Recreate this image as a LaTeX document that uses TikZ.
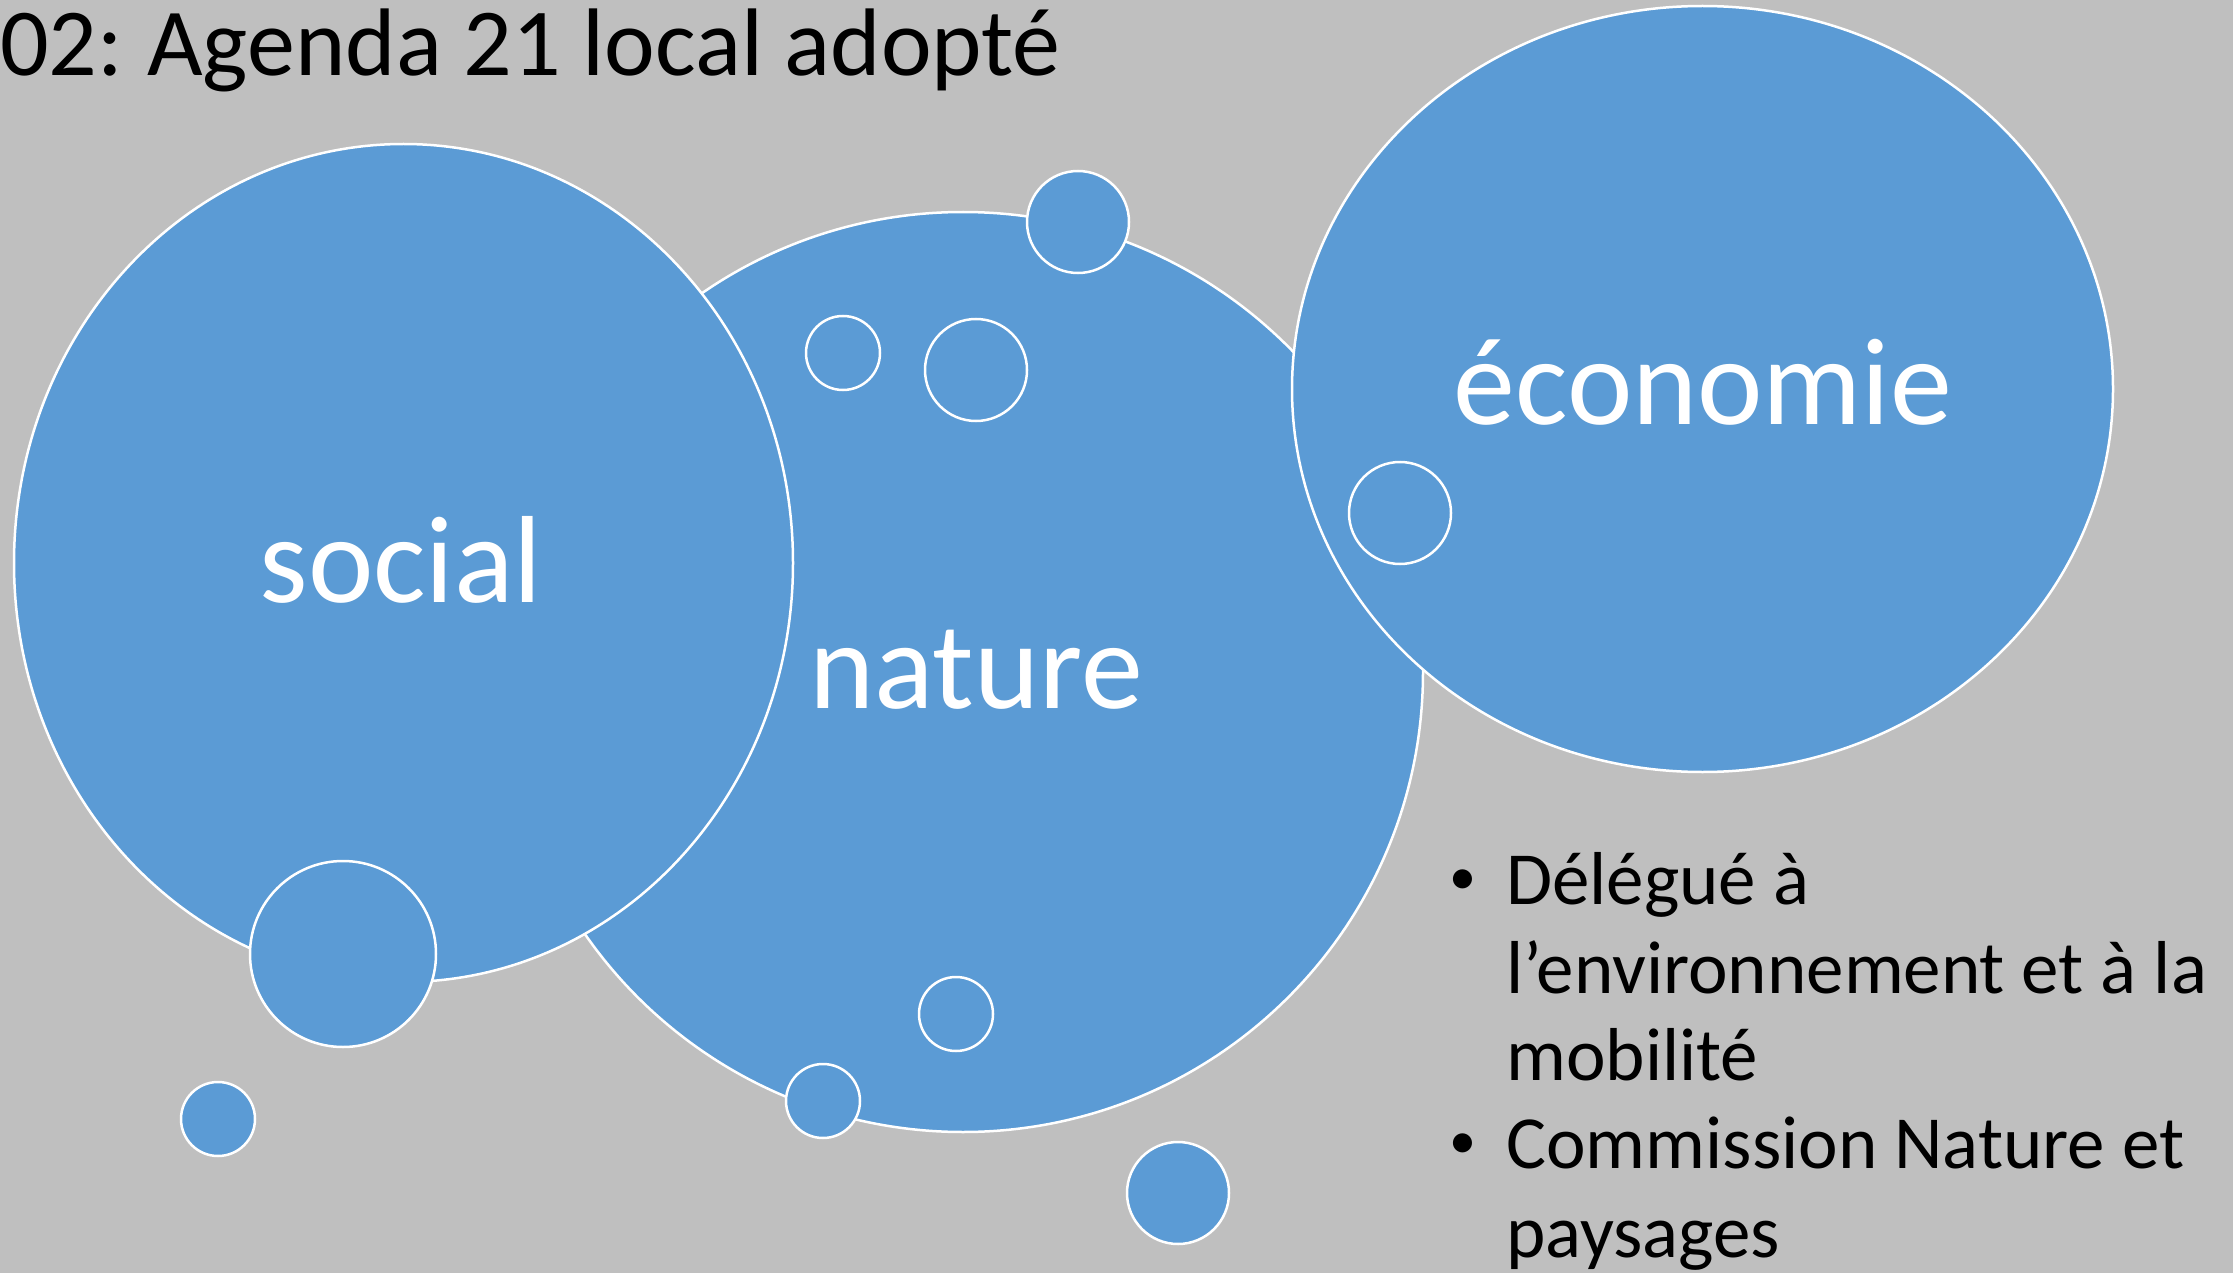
\documentclass[tikz,border=0pt]{standalone}
\usepackage{fontspec}
\setmainfont{Carlito}
\definecolor{bgc}{HTML}{BFBFBF}
\definecolor{blob}{HTML}{5B9BD5}
\begin{document}
\begin{tikzpicture}[x=1pt,y=-1pt,
  bubble/.style={fill=blob,draw=white,line width=2.5pt},
  bigtxt/.style={text=white,inner sep=0pt,anchor=base,font=\fontsize{124}{148}\selectfont},
  bultxt/.style={text=black,inner sep=0pt,anchor=base west,font=\fontsize{75}{88}\selectfont},
  buldot/.style={text=black,inner sep=0pt,anchor=base,font=\fontsize{54}{60}\selectfont}]
\fill[bgc] (0,0) rectangle (2233,1273);
\useasboundingbox (0,0) rectangle (2233,1273);
% big bubbles
\draw[bubble] (963,672) circle [radius=460pt];
\draw[bubble] (403.5,563) ellipse [x radius=389.5pt, y radius=419pt];
\draw[bubble] (1702.5,389) ellipse [x radius=410.5pt, y radius=383pt];
% small bubbles
\draw[bubble] (1078,222) circle [radius=51pt];
\draw[bubble] (843,353) circle [radius=37pt];
\draw[bubble] (976,370) circle [radius=51pt];
\draw[bubble] (1400,513) circle [radius=51pt];
\draw[bubble] (343,954) circle [radius=93pt];
\draw[bubble] (218,1119) circle [radius=37pt];
\draw[bubble] (956,1014) circle [radius=37pt];
\draw[bubble] (823,1101) circle [radius=37pt];
\draw[bubble] (1178,1193) circle [radius=51pt];
% labels
\node[text=black,inner sep=0pt,anchor=base west,font=\fontsize{96}{115}\selectfont] (title) at (0,76) {02:\hspace{-0.05em} Agenda 21 local adopté};
\node[bigtxt] (social) at (401,602) {social};
\node[bigtxt] (nature) at (976,708) {nature};
\node[bigtxt] (economie) at (1703,424) {économie};
% bullet list
\node[buldot] (b1) at (1463,894) {•};
\node[bultxt] (l1) at (1506,904) {Délégué à};
\node[bultxt] (l2) at (1506,993) {l’environnement et à la};
\node[bultxt] (l3) at (1506,1080) {mobilité};
\node[buldot] (b2) at (1463,1158) {•};
\node[bultxt] (l4) at (1506,1168) {Commission Nature et};
\node[bultxt] (l5) at (1506,1257) {paysages};
\end{tikzpicture}
\end{document}
